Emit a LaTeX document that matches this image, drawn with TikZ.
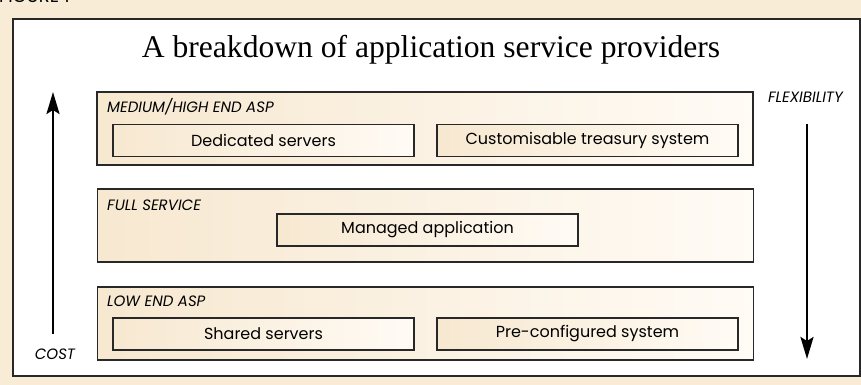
\documentclass[tikz,border=0pt]{standalone}
\usepackage{fontspec}
\setmainfont{Poppins}
\newfontfamily\titlefont{Liberation Serif}
\usetikzlibrary{arrows.meta}

\definecolor{paper}{RGB}{249,236,214}
\definecolor{bandleft}{RGB}{247,232,208}
\definecolor{bandright}{RGB}{255,251,245}
\definecolor{edge}{RGB}{40,40,40}

\tikzset{
  band/.style={draw=edge, line width=1.4pt, left color=bandleft, right color=bandright,
    minimum width=656pt, minimum height=73pt, inner sep=0pt},
  item/.style={draw=edge, line width=1.4pt, left color=bandleft, right color=bandright,
    minimum width=301pt, minimum height=32pt, inner sep=0pt, font=\fontsize{16}{18}\selectfont},
  bandlabel/.style={anchor=base west, inner sep=0pt, font=\itshape\fontsize{15}{17}\selectfont},
  axislabel/.style={anchor=base, inner sep=0pt, font=\itshape\fontsize{15}{17}\selectfont},
  axis/.style={line width=2.6pt, -{Stealth[length=22pt, width=13pt, inset=4pt]}}
}

\begin{document}
\begin{tikzpicture}[x=1pt, y=1pt]
                \useasboundingbox (0,0) rectangle (861,385);
                \clip (0,0) rectangle (861,385);
                \fill[paper] (0,0) rectangle (861,385);
                \node[anchor=base west, inner sep=0pt, font=\fontsize{18}{20}\selectfont] (fig) at (-1,382) {FIGURE 1};

                \filldraw[fill=white, draw=edge, line width=1.6pt] (13,9) rectangle (860,366);
                \node[anchor=base, inner sep=0pt, font=\titlefont\fontsize{31.6}{36}\selectfont] (title) at (431,327) {A breakdown of application service providers};

                % the three kinds of provider
                \node[band] (high) at (425,256.5) {};
                \node[band] (full) at (425.5,159.5) {};
                \node[band] (low) at (425.5,61.5) {};

                \node[bandlabel] (highlabel) at (107,272) {MEDIUM/HIGH END ASP};
                \node[bandlabel] (fulllabel) at (107,174) {FULL SERVICE};
                \node[bandlabel] (lowlabel) at (107,78) {LOW END ASP};

                \node[item] (dedicated) at (263.5,244.5) {Dedicated servers};
                \node[item] (treasury) at (587.5,244.5) {Customisable treasury system};
                \node[item] (managed) at (427.5,155) {Managed application};
                \node[item] (shared) at (263.5,51) {Shared servers};
                \node[item] (preconf) at (587.5,51) {Pre-configured system};

                % cost goes up, flexibility goes down
                \coordinate (costfoot) at (53,51);
                \coordinate (costtop) at (53,293);
                \draw[axis] (costfoot) -- (costtop);
                \node[axislabel] (cost) at (55,25) {COST};

                \coordinate (flextop) at (807,261);
                \coordinate (flexfoot) at (807,26);
                \draw[axis] (flextop) -- (flexfoot);
                \node[axislabel] (flex) at (805.5,282) {FLEXIBILITY};
\end{tikzpicture}
\end{document}
